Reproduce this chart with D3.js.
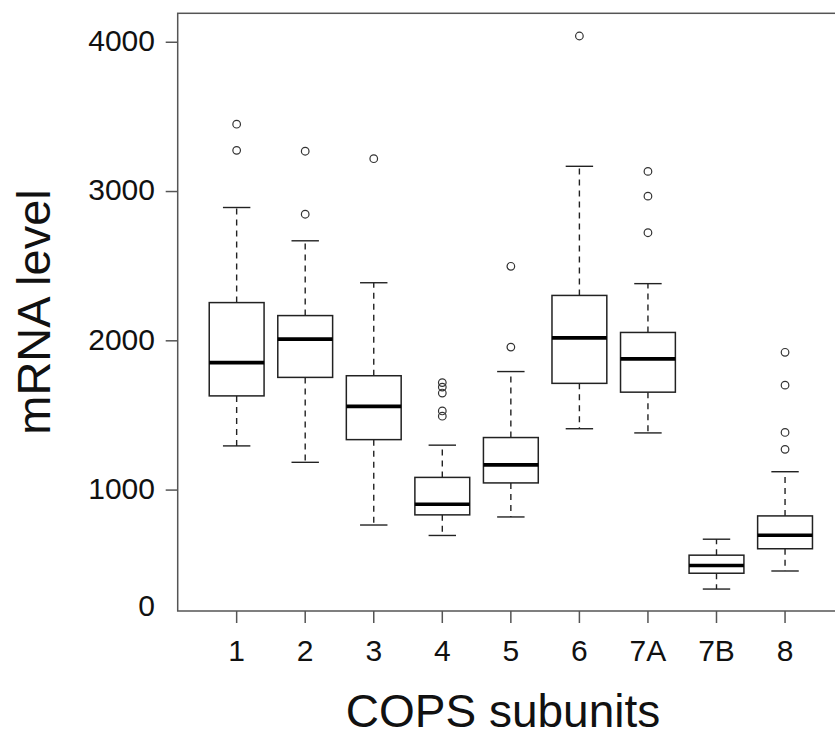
<!DOCTYPE html>
<html>
<head>
<meta charset="utf-8">
<script src="https://cdn.jsdelivr.net/npm/d3@7"></script>
<style>
  body { margin: 0; background: #fff; }
  svg { display: block; font-family: "Liberation Sans", Arial, Helvetica, sans-serif; }
</style>
</head>
<body>
<div id="chart"></div>
<script>
// COPS subunits, box stats
var subunits = ["1", "2", "3", "4", "5", "6", "7A", "7B", "8"];
var lowerWhisker = [1296, 1186, 766, 696, 820, 1411, 1383, 337, 458];
var q1 = [1631, 1755, 1338, 834, 1048, 1715, 1656, 443, 607];
var median = [1854, 2011, 1561, 905, 1169, 2020, 1879, 495, 697];
var q3 = [2256, 2169, 1766, 1085, 1352, 2304, 2056, 564, 827];
var upperWhisker = [2893, 2670, 2389, 1301, 1794, 3169, 2383, 671, 1123];
var outliers = [
    [3451, 3276],
    [3270, 2848],
    [3220],
    [1720, 1690, 1650, 1530, 1495],
    [2499, 1958],
    [4042],
    [3135, 2969, 2724],
    [],
    [1923, 1703, 1386, 1273]
];
var yTicks = [0, 1000, 2000, 3000, 4000];

var svgWidth = 835;
var svgHeight = 736;

// plot frame
var plot = { left: 177.7, right: 844, top: 13.3, bottom: 611 };

var svg = d3.select("#chart")
    .append("svg")
    .attr("width", svgWidth)
    .attr("height", svgHeight);

// R style boxplot: x from 0.5 to n+0.5 padded by 4%
var xScale = d3.scaleLinear()
    .domain([0.14, subunits.length + 0.86])
    .range([plot.left, plot.right]);

var yScale = d3.scaleLinear()
    .domain([190, 4194])
    .range([plot.bottom, plot.top]);

var boxData = subunits.map((s, i) => ({
    name: s,
    pos: i + 1,
    lo: lowerWhisker[i],
    q1: q1[i],
    med: median[i],
    q3: q3[i],
    hi: upperWhisker[i],
    out: outliers[i]
}));

var boxHalf = xScale(1.4) - xScale(1);
var capHalf = xScale(1.2) - xScale(1);

var boxes = svg.append("g")
    .selectAll("g")
    .data(boxData)
    .enter()
    .append("g");

// whiskers (dashed)
boxes.append("line")
    .attr("x1", d => xScale(d.pos))
    .attr("x2", d => xScale(d.pos))
    .attr("y1", d => yScale(d.q3))
    .attr("y2", d => yScale(d.hi))
    .attr("stroke", "#222")
    .attr("stroke-width", 1.4)
    .attr("stroke-dasharray", "6,5");

boxes.append("line")
    .attr("x1", d => xScale(d.pos))
    .attr("x2", d => xScale(d.pos))
    .attr("y1", d => yScale(d.q1))
    .attr("y2", d => yScale(d.lo))
    .attr("stroke", "#222")
    .attr("stroke-width", 1.4)
    .attr("stroke-dasharray", "6,5");

// caps
boxes.append("line")
    .attr("x1", d => xScale(d.pos) - capHalf)
    .attr("x2", d => xScale(d.pos) + capHalf)
    .attr("y1", d => yScale(d.hi))
    .attr("y2", d => yScale(d.hi))
    .attr("stroke", "#222")
    .attr("stroke-width", 1.4);

boxes.append("line")
    .attr("x1", d => xScale(d.pos) - capHalf)
    .attr("x2", d => xScale(d.pos) + capHalf)
    .attr("y1", d => yScale(d.lo))
    .attr("y2", d => yScale(d.lo))
    .attr("stroke", "#222")
    .attr("stroke-width", 1.4);

// box
boxes.append("rect")
    .attr("x", d => xScale(d.pos) - boxHalf)
    .attr("width", boxHalf * 2)
    .attr("y", d => yScale(d.q3))
    .attr("height", d => yScale(d.q1) - yScale(d.q3))
    .attr("fill", "#fff")
    .attr("stroke", "#222")
    .attr("stroke-width", 1.5);

// median
boxes.append("line")
    .attr("x1", d => xScale(d.pos) - boxHalf)
    .attr("x2", d => xScale(d.pos) + boxHalf)
    .attr("y1", d => yScale(d.med))
    .attr("y2", d => yScale(d.med))
    .attr("stroke", "#000")
    .attr("stroke-width", 3.6);

// outliers
boxes.selectAll("circle")
    .data(d => d.out.map(v => ({ pos: d.pos, v: v })))
    .enter()
    .append("circle")
    .attr("cx", d => xScale(d.pos))
    .attr("cy", d => yScale(d.v))
    .attr("r", 3.8)
    .attr("fill", "none")
    .attr("stroke", "#333")
    .attr("stroke-width", 1.2);

// frame
svg.append("rect")
    .attr("x", plot.left)
    .attr("y", plot.top)
    .attr("width", plot.right - plot.left)
    .attr("height", plot.bottom - plot.top)
    .attr("fill", "none")
    .attr("stroke", "#555")
    .attr("stroke-width", 1.5);

// y axis: ticks inside range, labels outside the range sit on the frame edge
var yAxis = svg.append("g");
var yIn = yTicks.filter(t => t >= yScale.domain()[0] && t <= yScale.domain()[1]);

yAxis.selectAll("line")
    .data(yIn)
    .enter()
    .append("line")
    .attr("x1", plot.left - 12)
    .attr("x2", plot.left)
    .attr("y1", d => yScale(d))
    .attr("y2", d => yScale(d))
    .attr("stroke", "#555")
    .attr("stroke-width", 1.5);

yAxis.selectAll("text")
    .data(yTicks)
    .enter()
    .append("text")
    .attr("x", 155)
    .attr("y", d => Math.min(Math.max(yScale(d), plot.top), plot.bottom - 4))
    .attr("dy", "0.29em")
    .attr("text-anchor", "end")
    .attr("font-size", 30)
    .attr("fill", "#111")
    .text(d => d);

// x axis
var xAxis = svg.append("g");

xAxis.selectAll("line")
    .data(boxData)
    .enter()
    .append("line")
    .attr("x1", d => xScale(d.pos))
    .attr("x2", d => xScale(d.pos))
    .attr("y1", plot.bottom)
    .attr("y2", plot.bottom + 12)
    .attr("stroke", "#555")
    .attr("stroke-width", 1.5);

xAxis.selectAll("text")
    .data(boxData)
    .enter()
    .append("text")
    .attr("x", d => xScale(d.pos))
    .attr("y", 661)
    .attr("text-anchor", "middle")
    .attr("font-size", 30)
    .attr("fill", "#111")
    .text(d => d.name);

// axis titles
svg.append("text")
    .attr("x", 503)
    .attr("y", 727)
    .attr("text-anchor", "middle")
    .attr("font-size", 46)
    .attr("fill", "#111")
    .text("COPS subunits");

svg.append("text")
    .attr("transform", "translate(50, 312) rotate(-90)")
    .attr("text-anchor", "middle")
    .attr("font-size", 47)
    .attr("fill", "#111")
    .text("mRNA level");
</script>
</body>
</html>
